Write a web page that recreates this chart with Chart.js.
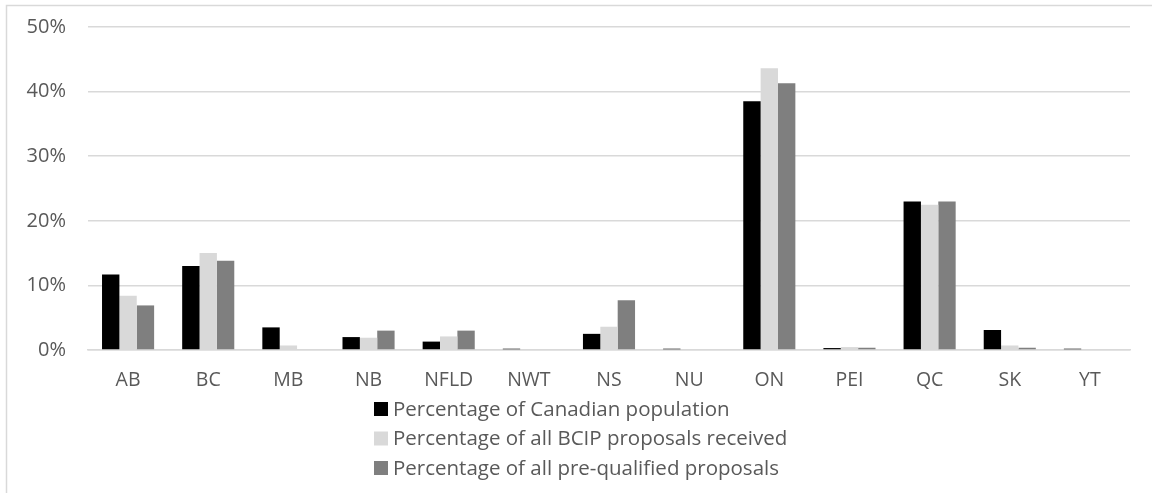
<!DOCTYPE html>
<html>
<head>
<meta charset="utf-8">
<style>
  html, body { margin: 0; padding: 0; background: #ffffff; }
  #wrap { position: relative; width: 1152px; height: 493px; }
</style>
<script src="https://cdn.jsdelivr.net/npm/chart.js@4/dist/chart.umd.min.js"></script>
</head>
<body>
<div id="wrap"><canvas id="chart" width="1152" height="493"></canvas></div>
<script>
// Provinces and territories
const provinces = ['AB', 'BC', 'MB', 'NB', 'NFLD', 'NWT', 'NS', 'NU', 'ON', 'PEI', 'QC', 'SK', 'YT'];

// Shares in percent
const populationShare  = [11.7, 13.0, 3.5, 2.0, 1.3, 0.2, 2.5, 0.2, 38.5, 0.3, 23.0, 3.1, 0.2];
const proposalsShare   = [8.4, 15.0, 0.7, 1.9, 2.1, 0.0, 3.6, 0.0, 43.6, 0.45, 22.5, 0.7, 0.0];
const prequalShare     = [6.9, 13.8, 0.0, 3.0, 3.0, 0.0, 7.7, 0.0, 41.3, 0.35, 23.0, 0.35, 0.0];

const seriesLabels = [
  'Percentage of Canadian population',
  'Percentage of all BCIP proposals received',
  'Percentage of all pre-qualified proposals'
];

// Value axis ticks
const yTickValues = [0, 10, 20, 30, 40, 50];

const FONT = '"Open Sans", "Noto Sans", sans-serif';
const TEXT = '#595959';
const GRID = '#d9d9d9';

// Light frame around the chart
const framePlugin = {
  id: 'frame',
  beforeDraw(chart) {
    const ctx = chart.ctx;
    ctx.save();
    ctx.strokeStyle = GRID;
    ctx.lineWidth = 1.5;
    ctx.beginPath();
    ctx.moveTo(6.5, chart.height + 2);
    ctx.lineTo(6.5, 5.5);
    ctx.lineTo(chart.width + 2, 5.5);
    ctx.stroke();
    ctx.restore();
  }
};

// Legend stacked one entry per row, left aligned
const stackedLegend = {
  id: 'stackedLegend',
  afterDraw(chart) {
    const ctx = chart.ctx;
    const x0 = 374;
    const rows = [409, 438.5, 468];
    ctx.save();
    ctx.font = '20.5px ' + FONT;
    ctx.textBaseline = 'middle';
    ctx.textAlign = 'left';
    chart.data.datasets.forEach((ds, i) => {
      const cy = rows[i];
      ctx.fillStyle = ds.backgroundColor;
      ctx.fillRect(x0, cy - 7, 14, 14);
      ctx.fillStyle = TEXT;
      ctx.fillText(ds.label, x0 + 19, cy + 1);
    });
    ctx.restore();
  }
};

new Chart(document.getElementById('chart'), {
  type: 'bar',
  data: {
    labels: provinces,
    datasets: [
      { label: seriesLabels[0], data: populationShare, backgroundColor: '#000000' },
      { label: seriesLabels[1], data: proposalsShare,  backgroundColor: '#d9d9d9' },
      { label: seriesLabels[2], data: prequalShare,    backgroundColor: '#7f7f7f' }
    ]
  },
  options: {
    responsive: false,
    animation: false,
    devicePixelRatio: 1,
    layout: { padding: { left: 0, right: 22, top: 27, bottom: 0 } },
    datasets: {
      bar: { barPercentage: 1.0, categoryPercentage: 0.65 }
    },
    plugins: {
      legend: { display: false },
      tooltip: { enabled: false }
    },
    scales: {
      x: {
        grid: { display: false, drawTicks: false },
        border: { display: true, color: GRID, width: 1.5 },
        ticks: { color: TEXT, font: { family: FONT, size: 19.5 }, padding: 19 },
        afterFit(scale) { scale.height = 143; scale.paddingLeft = 0; scale.paddingRight = 0; }
      },
      y: {
        min: 0,
        max: 50,
        afterBuildTicks(scale) { scale.ticks = yTickValues.map(v => ({ value: v })); },
        grid: { color: GRID, lineWidth: 1.5, drawTicks: false },
        border: { display: false },
        ticks: {
          color: TEXT,
          font: { family: FONT, size: 20 },
          padding: 22,
          callback: v => v + '%'
        },
        afterFit(scale) { scale.width = 88; scale.paddingTop = 0; scale.paddingBottom = 0; }
      }
    }
  },
  plugins: [framePlugin, stackedLegend]
});
</script>
</body>
</html>
